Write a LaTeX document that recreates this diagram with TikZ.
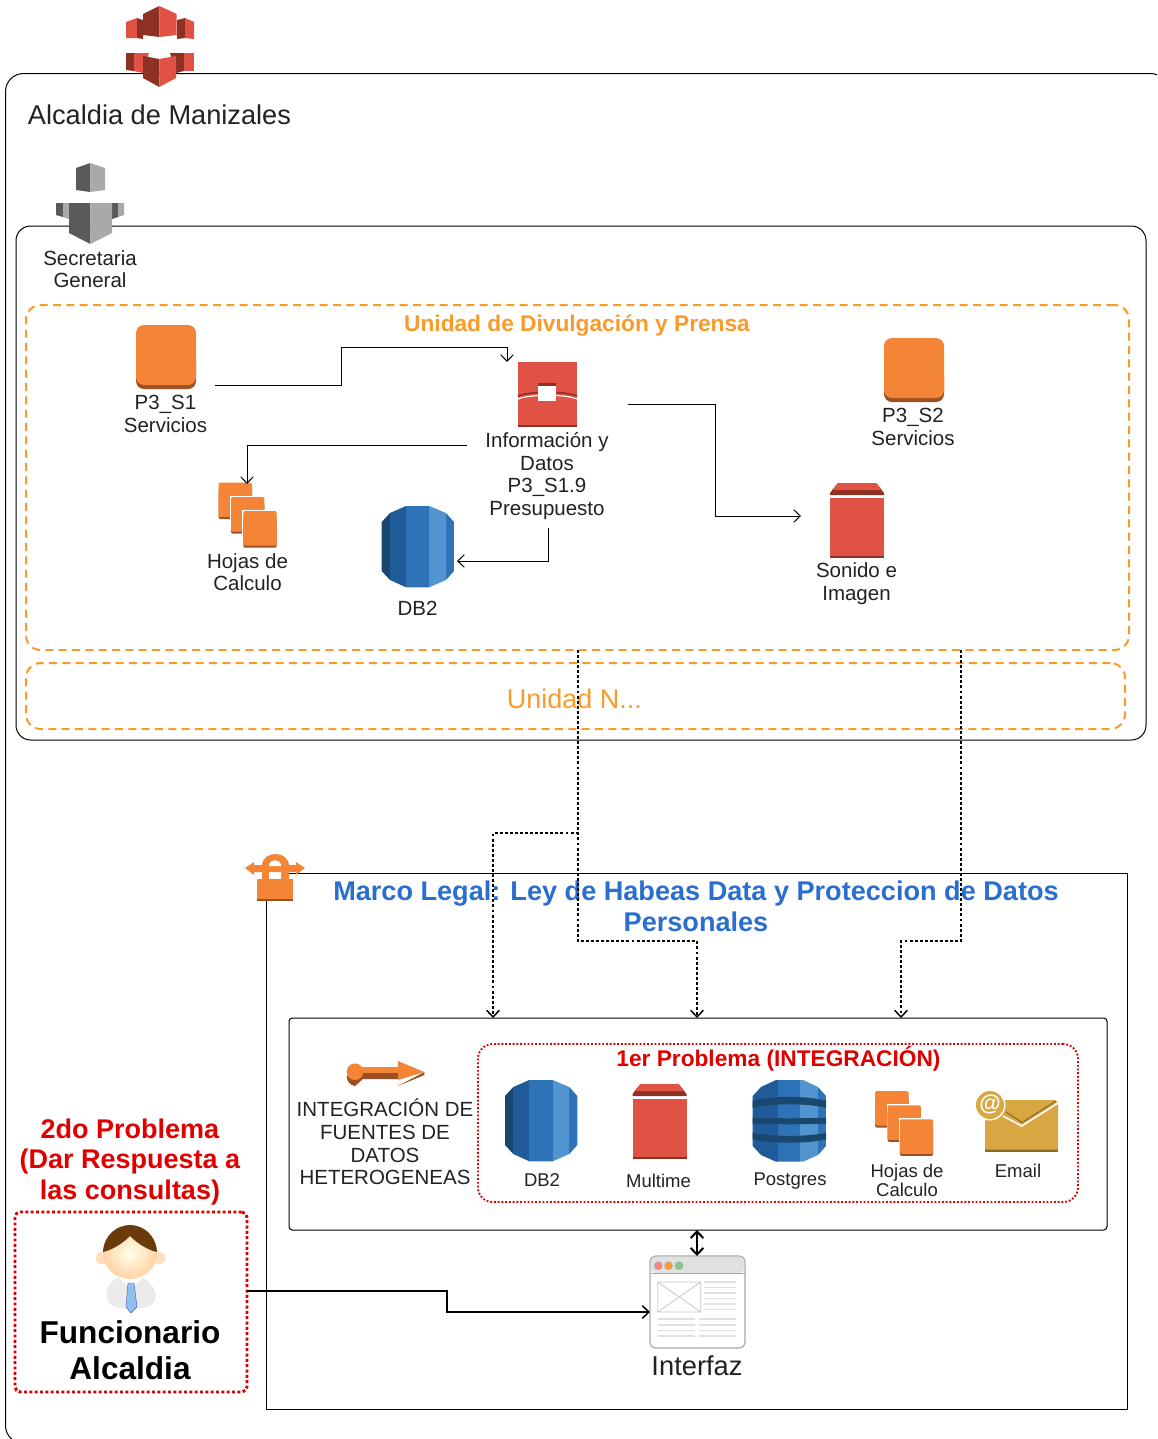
\documentclass[tikz,border=0pt]{standalone}
\usepackage{fontspec}
\setmainfont{Liberation Sans}
\usetikzlibrary{arrows.meta}
\definecolor{rl}{HTML}{E05243}\definecolor{rd}{HTML}{8C3123}
\definecolor{gl}{HTML}{A9A9A9}\definecolor{gd}{HTML}{5A5A5A}
\definecolor{ol}{HTML}{F58536}\definecolor{od}{HTML}{9D5025}
\definecolor{b1}{HTML}{1A476F}\definecolor{b2}{HTML}{205B99}\definecolor{b3}{HTML}{2E73B8}\definecolor{b4}{HTML}{5294CF}
\definecolor{au}{HTML}{D9A741}\definecolor{aud}{HTML}{876929}
\definecolor{ink}{HTML}{222222}\definecolor{orangeT}{HTML}{F99B2B}\definecolor{blueT}{HTML}{2A6FCF}\definecolor{redT}{HTML}{E00000}
\definecolor{hair}{HTML}{6B3A0A}\definecolor{tie}{HTML}{8FC0F0}
\newcommand{\setpx}[2]{\fontsize{\dimexpr #1pt*3/4\relax}{\dimexpr #2pt*3/4\relax}\selectfont}
\tikzset{
 every node/.style={outer sep=0pt},
 lbl/.style={inner sep=0pt,align=center,text=ink,font=\setpx{20.5}{22.6}},
 lblsm/.style={inner sep=0pt,align=center,text=ink,font=\setpx{18.5}{19}},
 box/.style={draw=black,line width=0.75pt},
 orangebox/.style={draw=orangeT,line width=1.5pt,dash pattern=on 6pt off 4pt,rounded corners=11pt},
 redbox/.style={draw=red!85!black,line width=1.4pt,dash pattern=on 1.4pt off 1.4pt,rounded corners=11pt},
 link/.style={draw=black,line width=0.75pt,-{Straight Barb[length=5pt,width=9.5pt]}},
 dotlink/.style={draw=black,line width=2pt,dash pattern=on 2.2pt off 1.6pt,-{Straight Barb[length=5pt,width=9.5pt,line width=1.1pt]}},
 boldlink/.style={draw=black,line width=1.1pt,-{Straight Barb[length=5pt,width=9.5pt]}},
}
\newcommand{\iconSquare}[2]{\begin{scope}[shift={(#1,#2)}]
 \fill[od,rounded corners=6pt] (0,30) rectangle (60,64);
 \fill[ol,rounded corners=6pt] (0,0) rectangle (60,60);
\end{scope}}
\newcommand{\iconStack}[2]{\begin{scope}[shift={(#1,#2)}]
 \foreach \a/\b in {0/0,12.3/14.3,24.6/28.3}{
  \fill[white] (\a-1,\b-1) rectangle (\a+34.5,\b+38);
  \fill[od,rounded corners=1pt] (\a,\b+6) rectangle (\a+33.3,\b+36.5);
  \fill[ol,rounded corners=1pt] (\a,\b) rectangle (\a+33.3,\b+34.5);}
\end{scope}}
\newcommand{\dbbase}{
 \begin{scope}
 \clip (406,506)--(429.3,506)--(446,513)--(454,522)--(454,571)--(446,580)--(429.3,587.3)--(406,587.3)--(390,580)--(381.7,571)--(381.7,522)--(390,513)--cycle;
 \fill[b1] (381,506) rectangle (390,588);
 \fill[b2] (390,506) rectangle (406,588);
 \fill[b3] (406,506) rectangle (429.3,588);
 \fill[b4] (429.3,506) rectangle (446,588);
 \fill[b3] (446,506) rectangle (455,588);
 \end{scope}}
\newcommand{\iconDB}[2]{\begin{scope}[shift={(#1,#2)}]\dbbase\end{scope}}
\newcommand{\iconBucket}[2]{\begin{scope}[shift={(#1,#2)}]
 \fill[rd] (830,493)--(838,483)--(876,483)--(884,493)--(884,495)--(830,495)--cycle;
 \fill[rl] (838,483)--(876,483)--(882,490)--(832,490)--cycle;
 \fill[rd] (830,498) rectangle (884,558);
 \fill[rl] (830,498) rectangle (884,555.5);
\end{scope}}
\begin{document}
\begin{tikzpicture}[x=0.75pt,y=-0.75pt]
\useasboundingbox (0,0) rectangle (1157,1439);
\fill[white] (0,0) rectangle (1157,1439);
\clip (0,0) rectangle (1157,1439);
% containers
\node[box,rounded corners=13.5pt,minimum width=1163pt*3/4,minimum height=1370pt*3/4,anchor=north west,inner sep=0pt] (alcaldia) at (5.5,73.5) {};
\node[box,rounded corners=11pt,minimum width=1130pt*3/4,minimum height=514pt*3/4,anchor=north west,inner sep=0pt] (secretaria) at (16,226) {};
\node[orangebox,minimum width=1103pt*3/4,minimum height=345pt*3/4,anchor=north west,inner sep=0pt] (unidad) at (26,305) {};
\node[orangebox,minimum width=1099pt*3/4,minimum height=66pt*3/4,anchor=north west,inner sep=0pt] (unidadn) at (26,663) {};
\node[box,minimum width=861pt*3/4,minimum height=536pt*3/4,anchor=north west,inner sep=0pt] (marco) at (266.5,873.5) {};
\node[box,rounded corners=2.5pt,minimum width=818pt*3/4,minimum height=212pt*3/4,anchor=north west,inner sep=0pt] (integ) at (289,1018) {};
\node[redbox,minimum width=600pt*3/4,minimum height=158pt*3/4,anchor=north west,inner sep=0pt] (prob1) at (478,1044) {};
\node[draw=red!85!black,line width=2.2pt,dash pattern=on 2.2pt off 1.8pt,rounded corners=4pt,minimum width=232pt*3/4,minimum height=180pt*3/4,anchor=north west,inner sep=0pt] (func) at (15,1212) {};
% top red icon
\fill[rd] (143,14)--(159.3,6)--(159.3,37)--(143,35)--cycle;
\fill[rl] (159.3,6)--(176.7,14)--(176.7,35)--(159.3,37)--cycle;
\fill[rl] (126,22)--(137,18)--(137,38)--(126,38)--cycle;
\fill[rd] (137,18)--(143,20)--(143,39)--(137,38)--cycle;
\fill[rd] (177,20)--(185,18)--(185,38)--(177,39)--cycle;
\fill[rl] (185,18)--(194,22)--(194,39)--(185,38)--cycle;
\fill[rd] (126,53)--(134,53)--(134,71)--(126,70)--cycle;
\fill[rl] (134,53)--(149,53)--(143,73)--(134,71)--cycle;
\fill[rd] (170,53)--(184,53)--(184,71)--(176,73)--cycle;
\fill[rl] (184,53)--(194,53)--(194,71)--(184,71)--cycle;
\fill[rd] (143,56)--(159.3,59)--(159.3,87)--(143,78)--cycle;
\fill[rl] (159.3,59)--(176,56)--(176,78)--(159.3,87)--cycle;
% grey icon
\fill[gd] (76,168)--(90.3,163)--(90.3,192)--(76,190)--cycle;
\fill[gl] (90.3,163)--(105,168)--(105,190)--(90.3,192)--cycle;
\fill[gd] (56,203)--(63,203)--(63,217)--(56,215)--cycle;
\fill[gl] (63,203)--(69,203)--(69,219)--(63,217)--cycle;
\fill[gd] (112,203)--(118,203)--(118,217)--(112,219)--cycle;
\fill[gl] (118,203)--(124,203)--(124,215)--(118,217)--cycle;
\fill[gd] (69,203)--(90.3,203)--(90.3,244)--(69,233)--cycle;
\fill[gl] (90.3,203)--(112,203)--(112,233)--(90.3,244)--cycle;
% service icons
\iconSquare{136}{325}
\iconSquare{884}{338}
% info icon
\fill[rl] (518,362) rectangle (577,424.5);
\fill[rd] (518,424.5) rectangle (577,427);
\draw[rd,line width=1.2pt] (518,396) .. controls (530,391) and (565,391) .. (577,396);
\draw[white,line width=0.9pt] (518,399) .. controls (530,394) and (565,394) .. (577,399);
\fill[rd] (538,383) rectangle (556,386);
\fill[white] (538,386) rectangle (556,401);
% stacks
\iconStack{218.7}{482.7}
\iconStack{875.2}{1091}
\iconDB{0}{0}
\iconDB{123.3}{574}
\iconBucket{0}{0}
\iconBucket{-197.5}{601}
% postgres
\begin{scope}
 \clip (776,1080)--(803,1080)--(818,1087)--(826,1096)--(826,1146)--(818,1155)--(803,1161.7)--(776,1161.7)--(761,1155)--(752.7,1146)--(752.7,1096)--(761,1087)--cycle;
 \fill[b2] (752,1080) rectangle (778,1162);
 \fill[b3] (778,1080) rectangle (800,1162);
 \fill[b4] (800,1080) rectangle (818,1162);
 \fill[b3] (818,1080) rectangle (827,1162);
 \fill[b1] (752,1101) .. controls (770,1095.5) and (808,1095.5) .. (827,1101) -- (827,1108) .. controls (808,1103) and (770,1103) .. (752,1108) -- cycle;
 \fill[b1] (752,1117.5) .. controls (770,1118.5) and (808,1118.5) .. (827,1117.5) -- (827,1123.5) .. controls (808,1124.5) and (770,1124.5) .. (752,1123.5) -- cycle;
 \fill[b1] (752,1132.5) .. controls (770,1137) and (808,1137) .. (827,1132.5) -- (827,1139) .. controls (808,1144) and (770,1144) .. (752,1139) -- cycle;
\end{scope}
% email
\fill[aud] (985,1103) rectangle (1058,1152);
\fill[au] (985,1103) -- (1003,1100) -- (1055,1100) -- (1058,1103) -- (1058,1149.5) -- (985,1149.5) -- cycle;
\draw[aud,line width=0.8pt] (1006,1112)--(1022,1122.5)--(1056,1101);
\draw[white,line width=1.2pt] (1003,1116)--(1021.7,1126)--(1058,1103);
\fill[white] (990,1105) circle (15.5);
\fill[au] (990,1105) circle (14);
\node[inner sep=0pt,text=white,font=\bfseries\setpx{22}{22}] (at) at (990,1104) {@};
% orange connector icon
\fill[od] (349,1075) -- (363,1073) -- (398,1073) -- (398,1086) -- (424.3,1072) -- (424.3,1075) -- (398,1086) -- (398,1079) -- (363,1079) -- (355,1086) .. controls (350,1085) and (347,1082) .. (346.7,1076) -- cycle;
\fill[ol] (355,1071.7) circle (8.3);
\fill[ol] (360,1067) rectangle (398,1073);
\fill[ol] (398,1061)--(424.3,1072)--(398,1080)--cycle;
% lock
\fill[ol] (245,868)--(254,862)--(254,865)--(296,865)--(296,862)--(305,868)--(296,875)--(296,872)--(254,872)--(254,875)--cycle;
\fill[ol] (262,880) -- (262,866) .. controls (262,850) and (289,850) .. (289,866) -- (289,880) -- (281,880) -- (281,866) .. controls (281,858) and (269,858) .. (269,866) -- (269,880) -- cycle;
\fill[white] (269,866) rectangle (281,864) (269,873) rectangle (281,878);
\fill[od] (257,890) rectangle (293,900.5);
\fill[ol] (257,879) rectangle (293,898.5);
% person
\fill[black!8] (117,1278) .. controls (110,1282) and (105,1290) .. (107,1298) .. controls (108,1305) and (115,1308) .. (122,1308) -- (140,1308) .. controls (150,1308) and (156,1303) .. (156,1296) .. controls (156,1289) and (150,1282) .. (143,1278) -- cycle;
\fill[white] (118,1277) -- (128,1286) -- (134,1286) -- (144,1277) -- cycle;
\fill[tie,draw=blue!40!gray,line width=0.3pt] (128,1283)--(134,1283)--(137,1307)--(131,1313)--(126,1307)--cycle;
\fill[orange!25!white] (102,1258) circle (6.3) (159,1258) circle (6.3);
\shade[inner color=yellow!8!white,outer color=orange!35!white] (130,1253) ellipse [x radius=27,y radius=26];
\fill[hair] (103,1252) .. controls (104,1234) and (118,1225) .. (130,1225) .. controls (142,1225) and (156,1234) .. (157,1252) .. controls (148,1250) and (138,1244) .. (130,1236) .. controls (122,1244) and (112,1250) .. (103,1252) -- cycle;
% window
\draw[gl,line width=0.9pt,fill=white,rounded corners=4pt] (650,1256) rectangle (745,1348);
\fill[black!12,rounded corners=3pt] (651,1257) rectangle (744,1273);
\draw[gl,line width=0.4pt] (650.5,1273) -- (744.5,1273);
\fill[red!50!white,draw=gray!70,line width=0.3pt] (658.3,1265.7) circle (4);
\fill[orange!80!white,draw=gray!70,line width=0.3pt] (668.5,1265.7) circle (4);
\fill[green!60!black!50,draw=gray!70,line width=0.3pt] (679,1265.7) circle (4);
\draw[black!22,line width=0.6pt] (657.7,1282) rectangle (700.7,1312) (657.7,1282)--(700.7,1312) (657.7,1312)--(700.7,1282);
\draw[black!12,line width=0.8pt] \foreach \yy in {1282,1287.5,1293,1298.5,1304,1309.5}{(704,\yy)--(736,\yy)};
\draw[black!12,line width=0.8pt] \foreach \yy in {1319,1325,1330.5,1336}{(657.7,\yy)--(695,\yy) (699,\yy)--(736,\yy)};
% texts
\node[inner sep=0pt,text=ink,font=\setpx{27.2}{30}] (talc) at (159.5,115) {Alcaldia de Manizales};
\node[lbl] (tsec) at (90,269) {Secretaria\\General};
\node[lbl] (ts1) at (165.5,414) {P3\_S1\\Servicios};
\node[lbl] (ts2) at (913,427) {P3\_S2\\Servicios};
\node[lbl] (tinfo) at (547,476) {Información y\\Datos\\P3\_S1.9\\Presupuesto};
\node[lbl] (thoj) at (247.5,572) {Hojas de\\Calculo};
\node[lbl] (tdb) at (417.5,608) {DB2};
\node[lbl] (tson) at (856.5,583.5) {Sonido e\\Imagen};
\node[inner sep=0pt,text=orangeT,font=\bfseries\setpx{22.7}{25}] (tuni) at (577,326) {Unidad de Divulgación y Prensa};
\node[inner sep=0pt,text=orangeT,font=\setpx{27}{30}] (tunin) at (574.5,699) {Unidad N...};
\node[inner sep=0pt,align=center,text=blueT,font=\bfseries\setpx{27.1}{31}] (tmar) at (696,906) {Marco Legal: Ley de Habeas Data y Proteccion de Datos\\Personales};
\node[inner sep=0pt,text=redT,font=\bfseries\setpx{22.7}{25}] (tp1) at (778.5,1059) {1er Problema (INTEGRACIÓN)};
\node[lbl] (tint) at (385,1142) {INTEGRACIÓN DE\\FUENTES DE\\DATOS\\HETEROGENEAS};
\node[lblsm] (tdb2) at (542,1180) {DB2};
\node[lblsm] (tmul) at (658.5,1181) {Multime};
\node[lblsm] (tpos) at (790,1181) {Postgres};
\node[lblsm] (thoj2) at (907,1180) {Hojas de\\Calculo};
\node[lblsm] (tema) at (1018,1171) {Email};
\node[inner sep=0pt,align=center,text=redT,font=\bfseries\setpx{27}{30.6}] (tp2) at (130,1162) {2do Problema\\(Dar Respuesta a\\las consultas)};
\node[inner sep=0pt,align=center,text=black,font=\bfseries\setpx{31.6}{36}] (tfun) at (130,1350) {Funcionario\\Alcaldia};
\node[inner sep=0pt,text=ink,font=\setpx{27.3}{30}] (tif) at (697,1366) {Interfaz};
% connector ends
\coordinate (a1) at (215,385); \coordinate (a2) at (507,362);
\coordinate (b1x) at (467,445); \coordinate (b2x) at (247,484);
\coordinate (c1) at (548,528); \coordinate (c2) at (457,561);
\coordinate (d1) at (628,404); \coordinate (d2) at (801,516);
\coordinate (e1) at (578,650); \coordinate (e2) at (493,1018);
\coordinate (f2) at (697,1018);
\coordinate (g1) at (961,650); \coordinate (g2) at (901,1018);
\coordinate (h1) at (697,1230); \coordinate (h2) at (697,1256);
\coordinate (i1) at (func.east |- 0,1291); \coordinate (i2) at (650,1312);
\draw[link] (a1) -- (341,385) -- (341,347) -- (507,347) -- (a2);
\draw[link] (b1x) -- (247,445) -- (b2x);
\draw[link] (c1) -- (548,561) -- (c2);
\draw[link] (d1) -- (715,404) -- (715,516) -- (d2);
\draw[dotlink] (e1) -- (578,833) -- (493,833) -- (e2);
\draw[dotlink] (e1) -- (578,941) -- (697,941) -- (f2);
\draw[dotlink] (g1) -- (961,941) -- (901,941) -- (g2);
\draw[draw=black,line width=1.5pt,{Straight Barb[length=5pt,width=9.5pt]}-{Straight Barb[length=5pt,width=9.5pt]}] (h1) -- (h2);
\draw[boldlink] (i1) -- (447,1291) -- (447,1312) -- (i2);
\end{tikzpicture}
\end{document}
